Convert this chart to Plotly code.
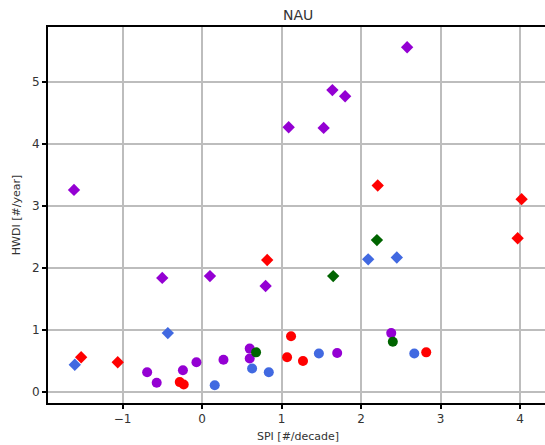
import plotly.graph_objects as go

# ---- data ----
purple_d_x = [-1.61, 2.58, 1.64, 1.80, 1.09, 1.53, -0.50, 0.10, 0.80]
purple_d_y = [3.26, 5.56, 4.87, 4.77, 4.27, 4.26, 1.84, 1.87, 1.71]
purple_c_x = [-0.69, -0.57, -0.24, -0.07, 0.27, 0.60, 0.60, 1.70, 2.38]
purple_c_y = [0.32, 0.15, 0.35, 0.48, 0.52, 0.70, 0.54, 0.63, 0.95]

blue_d_x = [-1.60, -0.43, 2.09, 2.45]
blue_d_y = [0.44, 0.95, 2.14, 2.17]
blue_c_x = [0.16, 0.63, 0.84, 1.47, 2.67]
blue_c_y = [0.11, 0.38, 0.32, 0.62, 0.62]

red_d_x = [-1.52, -1.06, 0.82, 2.21, 4.02, 3.97]
red_d_y = [0.56, 0.48, 2.13, 3.33, 3.11, 2.48]
red_c_x = [-0.28, -0.23, 1.12, 1.07, 1.27, 2.82]
red_c_y = [0.16, 0.12, 0.90, 0.56, 0.50, 0.64]

green_d_x = [2.20, 1.65]
green_d_y = [2.45, 1.87]
green_c_x = [0.68, 2.40]
green_c_y = [0.64, 0.81]

x_ticks = [-1, 0, 1, 2, 3, 4]
y_ticks = [0, 1, 2, 3, 4, 5]
title_text = "NAU"
x_label = "SPI [#/decade]"
y_label = "HWDI [#/year]"

FONT = "DejaVu Sans"
fig = go.Figure()

series = [
    (purple_c_x, purple_c_y, "#9400D3", "circle"),
    (purple_d_x, purple_d_y, "#9400D3", "diamond"),
    (blue_c_x, blue_c_y, "#4169E1", "circle"),
    (blue_d_x, blue_d_y, "#4169E1", "diamond"),
    (red_c_x, red_c_y, "#FF0000", "circle"),
    (red_d_x, red_d_y, "#FF0000", "diamond"),
    (green_c_x, green_c_y, "#006400", "circle"),
    (green_d_x, green_d_y, "#006400", "diamond"),
]
for xs, ys, col, sym in series:
    fig.add_trace(go.Scatter(
        x=xs, y=ys, mode="markers",
        marker=dict(color=col, symbol=sym, size=10 if sym == "circle" else 9.5,
                    line=dict(width=0)),
        showlegend=False, hoverinfo="skip", cliponaxis=False,
    ))

fig.update_layout(
    width=545, height=445,
    margin=dict(l=48, r=0, t=27, b=42),
    paper_bgcolor="white", plot_bgcolor="white",
    font=dict(family=FONT, size=12, color="#222"),
    xaxis=dict(
        range=[-1.937, 4.314], tickvals=x_ticks, ticks="outside", ticklen=4,
        tickwidth=1.5, tickcolor="black",
        showgrid=True, gridcolor="#bdbdbd", gridwidth=2,
        showline=True, linecolor="black", linewidth=2, mirror=True,
        zeroline=False, tickfont=dict(size=12, color="#333"),
    ),
    yaxis=dict(
        range=[-0.177, 5.887], tickvals=y_ticks, ticks="outside", ticklen=4,
        tickwidth=1.5, tickcolor="black",
        showgrid=True, gridcolor="#bdbdbd", gridwidth=2,
        showline=True, linecolor="black", linewidth=2, mirror=False,
        zeroline=False, tickfont=dict(size=12, color="#333"),
    ),
    annotations=[
        dict(text=title_text, xref="paper", yref="paper", x=0.503, y=1,
             yanchor="bottom", yshift=2, showarrow=False,
             font=dict(family=FONT, size=14, color="#333")),
        dict(text=x_label, xref="paper", yref="paper", x=0.503, y=-0.09,
             yanchor="middle", showarrow=False,
             font=dict(family=FONT, size=11, color="#333")),
        dict(text=y_label, xref="paper", yref="paper", x=-0.064, y=0.5,
             xanchor="center", yanchor="middle", textangle=-90, showarrow=False,
             font=dict(family=FONT, size=11, color="#333")),
    ],
)

fig.write_html("out.html")
